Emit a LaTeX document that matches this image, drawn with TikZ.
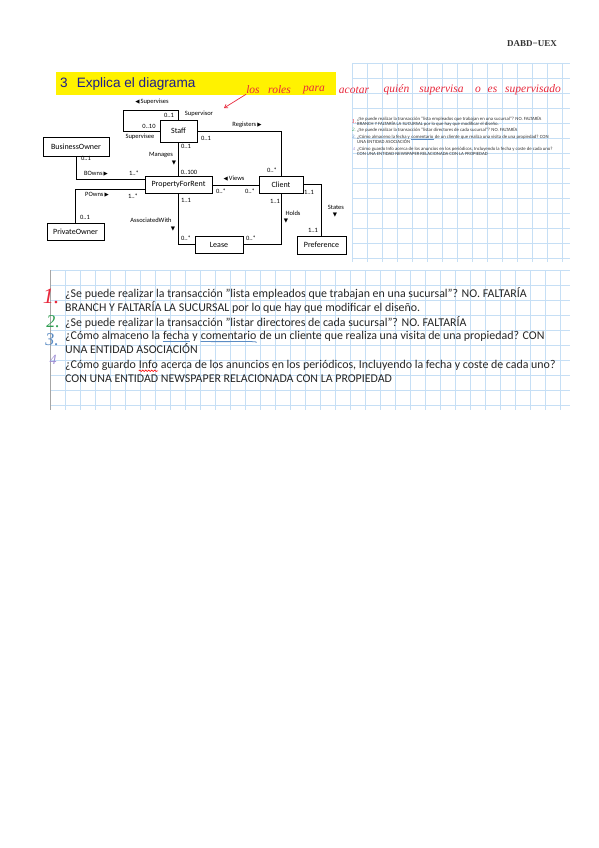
\documentclass[tikz,border=0pt]{standalone}
\usepackage{fontspec}
\setmainfont{Carlito}
\newfontfamily\titlef{Liberation Sans}
\newfontfamily\headf{Liberation Serif}
\newfontfamily\handf{Liberation Serif}
\newfontfamily\symf{DejaVu Sans}
\usetikzlibrary{arrows.meta,decorations.pathmorphing}
\definecolor{gridblue}{HTML}{C6DFF5}
\definecolor{handred}{HTML}{E8283C}
\definecolor{titleblue}{HTML}{1E1E8C}
\definecolor{handgreen}{HTML}{2E9E50}
\definecolor{handblue}{HTML}{5B8CC4}
\definecolor{handviolet}{HTML}{9C8CD4}
\newcommand\trileft{{\symf\fontsize{5.5}{6}\selectfont ◀}}
\newcommand\triright{{\symf\fontsize{5.5}{6}\selectfont ▶}}
\newcommand\tridown{{\symf\fontsize{5.5}{6}\selectfont ▼}}
\newcommand\keepsp{\ \mbox{}}
\tikzset{
  ent/.style={draw, line width=0.9pt, fill=white, inner sep=0pt, font=\fontsize{8}{9}\selectfont},
  lbl/.style={font=\fontsize{6.5}{7}\selectfont, inner sep=0pt},
  conn/.style={line width=0.9pt},
  gridline/.style={draw=gridblue, line width=0.5pt},
  q/.style={font=\fontsize{11.9}{13}\selectfont, anchor=base west, inner sep=0pt, text=black!85},
  tq/.style={font=\fontsize{4.75}{5}\selectfont, anchor=base west, inner sep=0pt, text=black!80},
  hand/.style={text=handred, font=\handf\itshape\fontsize{11.5}{12}\selectfont, inner sep=0pt},
  num/.style={font=\handf\itshape, inner sep=0pt},
}
\begin{document}
\begin{tikzpicture}[x=1pt,y=-1pt]
\useasboundingbox (0,0) rectangle (599,848);
\fill[white] (0,0) rectangle (599,848);

% grids
\foreach \x in {352,367,...,570} \draw[gridline] (\x,63) -- (\x,262);
\foreach \y in {63,78,...,262} \draw[gridline] (352,\y) -- (570,\y);
\foreach \x in {50,65,...,570} \draw[gridline] (\x,270) -- (\x,410);
\foreach \y in {270,285,...,410} \draw[gridline] (50,\y) -- (570,\y);
\draw[black!35, line width=0.6pt] (50,270) -- (50,410);

% header
\node[font=\headf\bfseries\fontsize{9}{10}\selectfont, text=black!80] (hdr) at (532,44) {DABD−UEX};

% title bar
\node[fill=yellow, minimum width=280pt, minimum height=23pt, anchor=north west, inner sep=0pt] (bar) at (56,72) {};
\node[font=\titlef\fontsize{13.6}{15}\selectfont, text=titleblue, anchor=west, inner sep=0pt] (title) at (60,84) {3\hspace{9pt}Explica el diagrama};

% red handwriting
\node[hand] (hw1) at (253,90) {los};
\node[hand] (hw2) at (279.5,90) {roles};
\node[hand] (hw3) at (314,90) {para};
\node[hand] (hw4) at (354,90) {acotar};
\node[hand] (hw5) at (396.5,90) {quién};
\node[hand] (hw6) at (441.5,90) {supervisa};
\node[hand] (hw7) at (478,90) {o};
\node[hand] (hw8) at (492.5,90) {es};
\node[hand] (hw9) at (533,90) {supervisado};
\coordinate (arrtip) at (224,108);
\draw[handred, line width=0.7pt, -{Straight Barb[length=3pt,width=4pt]}] (hw1.south west) -- (arrtip);

% entities
\node[ent, minimum width=37pt, minimum height=22pt] (staff) at (178.5,131) {Staff};
\node[ent, minimum width=66pt, minimum height=19pt] (bo) at (76,147) {BusinessOwner};
\node[ent, minimum width=67pt, minimum height=17pt] (pfr) at (178.5,185) {PropertyForRent};
\node[ent, minimum width=44pt, minimum height=17pt] (client) at (281,184.5) {Client};
\node[ent, minimum width=57pt, minimum height=17pt] (po) at (75.5,231.5) {PrivateOwner};
\node[ent, minimum width=48pt, minimum height=17pt] (lease) at (219,244.5) {Lease};
\node[ent, minimum width=49pt, minimum height=18pt] (pref) at (321.5,245) {Preference};

% connectors
\coordinate (loop) at (123,110);
\draw[conn] (staff.north) -- (staff.north |- loop) -- (loop) |- (staff.west);
\draw[conn] (staff.east) -| (client.north);
\draw[conn] (staff.south) -- (pfr.north);
\draw[conn] (bo.south) |- ([yshift=6pt]pfr.west);
\draw[conn] (po.north) |- ([yshift=-4pt]pfr.west);
\draw[conn] (pfr.south) |- (lease.west);
\draw[conn] (client.south) |- (lease.east);
\draw[conn] (pfr.east) -- (pfr.east -| client.west);
\draw[conn] (client.east) -| (pref.north);

% labels
\node[lbl] (l1) at (152,102) {\trileft\,Supervises};
\node[lbl] (l2) at (169,115) {0..1};
\node[lbl] (l3) at (199,114) {Supervisor};
\node[lbl] (l4) at (149,126.5) {0..10};
\node[lbl] (l5) at (140,137) {Supervisee};
\node[lbl] (l6) at (247,125) {Registers\,\triright};
\node[lbl] (l7) at (206,138) {0..1};
\node[lbl] (l8) at (186,146) {0..1};
\node[lbl] (l9) at (161,155) {Manages};
\node[lbl] (l10) at (174,163) {\tridown};
\node[lbl] (l11) at (189,172) {0..100};
\node[lbl] (l12) at (86,158) {0..1};
\node[lbl] (l13) at (96,174) {BOwns\,\triright};
\node[lbl] (l14) at (134,173) {1..*};
\node[lbl] (l15) at (97,195) {POwns\,\triright};
\node[lbl] (l16) at (133,196) {1..*};
\node[lbl] (l17) at (85,217) {0..1};
\node[lbl] (l18) at (186,200) {1..1};
\node[lbl] (l19) at (151,220) {AssociatedWith};
\node[lbl] (l20) at (173,229) {\tridown};
\node[lbl] (l21) at (186,238) {0..*};
\node[lbl] (l22) at (234,179) {\trileft\,Views};
\node[lbl] (l23) at (221,191) {0..*};
\node[lbl] (l24) at (250,191) {0..*};
\node[lbl] (l25) at (272,170) {0..*};
\node[lbl] (l26) at (275,201) {1..1};
\node[lbl] (l27) at (293,213) {Holds};
\node[lbl] (l28) at (286,221) {\tridown};
\node[lbl] (l29) at (251,238) {0..*};
\node[lbl] (l30) at (309,192) {1..1};
\node[lbl] (l31) at (336,207) {States};
\node[lbl] (l32) at (335,215) {\tridown};
\node[lbl] (l33) at (313,230) {1..1};

% tiny copy of the answers
\node[num, text=handred, font=\handf\itshape\fontsize{6}{6}\selectfont] (tn1) at (354,122) {1.};
\node[num, text=handgreen, font=\handf\itshape\fontsize{5}{5}\selectfont] (tn2) at (354,130) {2.};
\node[num, text=handblue, font=\handf\itshape\fontsize{5}{5}\selectfont] (tn3) at (354,137) {3.};
\node[num, text=handviolet, font=\handf\itshape\fontsize{4.5}{5}\selectfont] (tn4) at (354,149) {4};
\node[tq] (t1) at (357,120.5) {¿Se puede realizar la transacción "lista empleados que trabajan en una sucursal"? NO. FALTARÍA};
\node[tq] (t2) at (357,125.5) {BRANCH Y FALTARÍA LA SUCURSAL por lo que hay que modificar el diseño.};
\node[tq] (t3) at (357,131.5) {¿Se puede realizar la transacción "listar directores de cada sucursal"? NO. FALTARÍA};
\node[tq] (t4a) at (357,138.5) {¿Cómo almaceno la fecha y\keepsp};
\node[tq] (t4b) at (t4a.base east) {comentario};
\node[tq] (t4c) at (t4b.base east) {\ de un cliente que realiza una visita de una propiedad? CON};
\node[tq] (t5) at (357,143.5) {UNA ENTIDAD ASOCIACIÓN};
\node[tq] (t6) at (357,150.5) {¿Cómo guardo Info acerca de los anuncios en los periódicos, Incluyendo la fecha y coste de cada uno?};
\node[tq] (t7) at (357,155.5) {CON UNA ENTIDAD NEWSPAPER RELACIONADA CON LA PROPIEDAD};
\draw[handblue, line width=0.5pt] ([yshift=-1pt]t4b.base west) -- ([yshift=-1pt]t4b.base east);

% answers
\node[num, text=handred, font=\handf\itshape\fontsize{22}{22}\selectfont] (n1) at (51,296) {1.};
\node[num, text=handgreen, font=\handf\itshape\fontsize{18}{18}\selectfont] (n2) at (53,322) {2.};
\node[num, text=handblue, font=\handf\itshape\fontsize{18}{18}\selectfont] (n3) at (52,340) {3.};
\node[num, text=handviolet, font=\handf\itshape\fontsize{14}{14}\selectfont] (n4) at (53,360) {4};

\node[q] (q1) at (65,297) {¿Se puede realizar la transacción "lista empleados que trabajan en una sucursal"? NO. FALTARÍA};
\node[q] (q2) at (65,311) {BRANCH Y FALTARÍA LA SUCURSAL por lo que hay que modificar el diseño.};
\node[q] (q3) at (65,326) {¿Se puede realizar la transacción "listar directores de cada sucursal"? NO. FALTARÍA};
\node[q] (q4a) at (65,339) {¿Cómo almaceno la\keepsp};
\node[q] (q4b) at (q4a.base east) {fecha};
\node[q] (q4c) at (q4b.base east) {\ y\keepsp};
\node[q] (q4d) at (q4c.base east) {comentario};
\node[q] (q4e) at (q4d.base east) {\ de un cliente que realiza una visita de una propiedad? CON};
\node[q] (q5) at (65,353) {UNA ENTIDAD ASOCIACIÓN};
\node[q] (q6a) at (65,368) {¿Cómo guardo\keepsp};
\node[q] (q6b) at (q6a.base east) {Info};
\node[q] (q6c) at (q6b.base east) {\ acerca de los anuncios en los periódicos, Incluyendo la fecha y coste de cada uno?};
\node[q] (q7) at (65,382) {CON UNA ENTIDAD NEWSPAPER RELACIONADA CON LA PROPIEDAD};

\draw[handblue, line width=0.8pt] ([yshift=-2.4pt]q4b.base west) -- ([yshift=-2.4pt]q4b.base east);
\draw[handblue, line width=0.8pt] ([yshift=-2.4pt]q4d.base west) .. controls ([yshift=-3.2pt]q4d.base) and ([yshift=-1.6pt]q4d.base east) .. ([yshift=-3.4pt]q4d.base east);
\draw[red, line width=0.6pt, decorate, decoration={snake, amplitude=0.7pt, segment length=3pt}] ([yshift=-2.8pt]q6b.base west) -- ([yshift=-2.8pt]q6b.base east);
\end{tikzpicture}
\end{document}
